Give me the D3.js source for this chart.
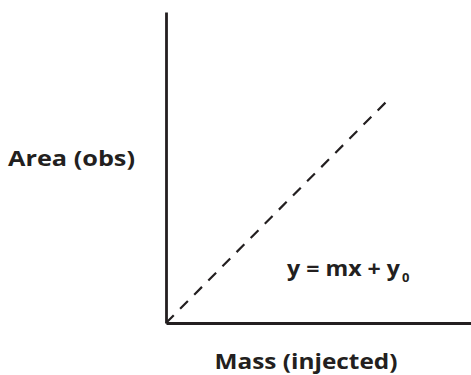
<!DOCTYPE html>
<html>
<head>
<meta charset="utf-8">
<script src="https://cdn.jsdelivr.net/npm/d3@7"></script>
<style>
  html, body { margin: 0; padding: 0; background: #fff; }
  svg { display: block; }
  text { font-family: "Open Sans", Lato, sans-serif; font-weight: 700; fill: #231f20; }
</style>
</head>
<body>
<div id="chart"></div>
<script>
// Calibration line: area observed vs. mass injected (schematic, unitless)
const massValues = [0, 0.728];
const areaValues = [0, 0.717];
const xLabel = "Mass (injected)";
const yLabel = "Area (obs)";
const equation = { main: "y = mx + y", sub: "0" };

const width = 471, height = 375;
const margin = { top: 12, right: 0, bottom: 52, left: 166 };

const svg = d3.select("#chart").append("svg")
  .attr("width", width).attr("height", height);

const x = d3.scaleLinear().domain([0, 1]).range([margin.left, width - margin.right]);
const y = d3.scaleLinear().domain([0, 1]).range([height - margin.bottom, margin.top]);

const ink = "#231f20";

// Axes: plain lines without ticks
svg.append("g")
  .attr("transform", `translate(0,${y(0)})`)
  .call(d3.axisBottom(x).tickValues([]).tickSizeOuter(0))
  .call(g => g.select(".domain").attr("stroke", ink).attr("stroke-width", 2.8));

svg.append("g")
  .attr("transform", `translate(${x(0)},0)`)
  .call(d3.axisLeft(y).tickValues([]).tickSizeOuter(0))
  .call(g => g.select(".domain").attr("stroke", ink).attr("stroke-width", 2.8));

// Dashed linear response
const pts = massValues.map((m, i) => [m, areaValues[i]]);
svg.append("path")
  .datum(pts)
  .attr("fill", "none")
  .attr("stroke", ink)
  .attr("stroke-width", 2.2)
  .attr("stroke-dasharray", "11,9")
  .attr("d", d3.line().x(d => x(d[0])).y(d => y(d[1])));

// Axis titles
svg.append("text")
  .attr("x", 306).attr("y", 369)
  .attr("text-anchor", "middle")
  .attr("font-size", 22)
  .attr("textLength", 183)
  .attr("lengthAdjust", "spacingAndGlyphs")
  .text(xLabel);

svg.append("text")
  .attr("x", 8).attr("y", 166)
  .attr("font-size", 22)
  .attr("textLength", 127)
  .attr("lengthAdjust", "spacingAndGlyphs")
  .text(yLabel);

// Equation with subscript
const eq = svg.append("text")
  .attr("x", 287).attr("y", 276)
  .attr("font-size", 22);
eq.append("tspan").attr("textLength", 113).attr("lengthAdjust", "spacingAndGlyphs").text(equation.main);
eq.append("tspan").attr("font-size", 13).attr("dy", 6).attr("dx", 2).text(equation.sub);
</script>
</body>
</html>
